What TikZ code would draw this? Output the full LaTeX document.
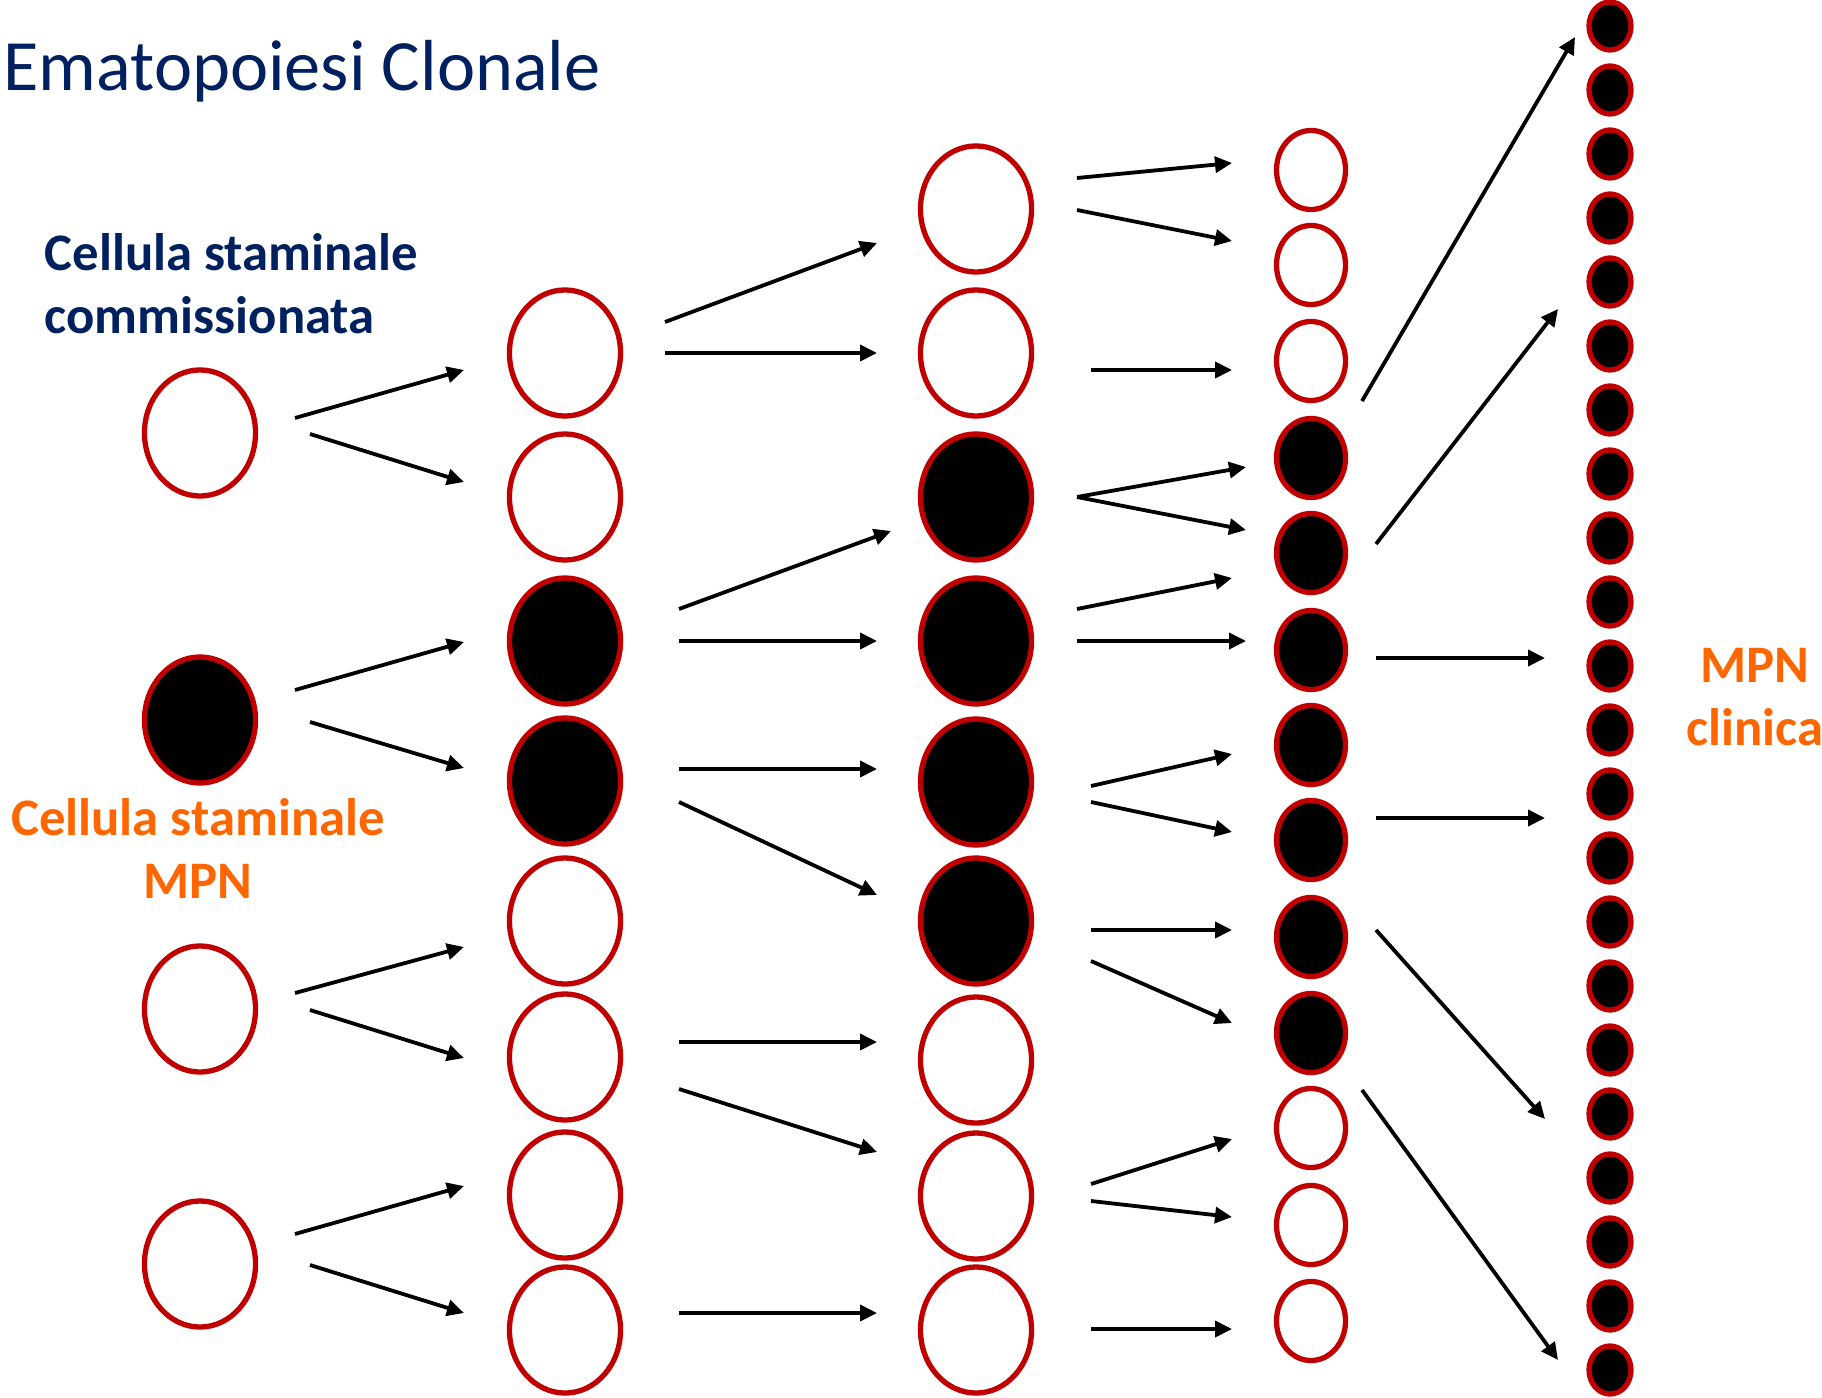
\documentclass[tikz,border=0pt]{standalone}
\usepackage{fontspec}
\setmainfont{Carlito}
\usetikzlibrary{arrows.meta,shapes.geometric}
\definecolor{navy}{HTML}{002060}
\definecolor{cellred}{HTML}{C00000}
\definecolor{mpnorange}{HTML}{FF6600}
% arrow from a point offset from one cell to a point offset from another
\newcommand\link[4]{\draw[arr] ([shift={#2}]#1.center) -- ([shift={#4}]#3.center);}
\begin{document}
\begin{tikzpicture}[x=0.01cm,y=-0.01cm,
  cell/.style={ellipse,draw=cellred,line width=0.053cm,inner sep=0pt,
    minimum width=1.11cm,minimum height=1.26cm,fill=white},
  midcell/.style={cell,minimum width=0.69cm,minimum height=0.79cm},
  smallcell/.style={cell,minimum width=0.42cm,minimum height=0.48cm,fill=black},
  mut/.style={fill=black},
  arr/.style={-{Triangle[length=0.17cm,width=0.16cm]},line width=0.038cm},
  lbl/.style={inner sep=0pt,font=\fontsize{15pt}{17.9pt}\selectfont\bfseries},
]
\useasboundingbox (0,0) rectangle (1822,1397);

% stem cells
\node[cell] (A1) at (200,433) {};
\node[cell,mut] (A2) at (200,720) {};
\node[cell] (A3) at (200,1009) {};
\node[cell] (A4) at (200,1264) {};

% first progeny
\foreach \i/\y in {1/353,2/497,5/921,6/1057,7/1195,8/1330}
  \node[cell] (B\i) at (565,\y) {};
\foreach \i/\y in {3/641,4/781}
  \node[cell,mut] (B\i) at (565,\y) {};

% second progeny
\foreach \i/\y in {1/209,2/353,7/1060,8/1196,9/1330}
  \node[cell] (C\i) at (976,\y) {};
\foreach \i/\y in {3/497,4/641,5/782,6/921}
  \node[cell,mut] (C\i) at (976,\y) {};

% precursors
\foreach \i/\y in {1/170,2/265,3/361,11/1128,12/1225,13/1321}
  \node[midcell] (D\i) at (1311,\y) {};
\foreach \i/\y in {4/458,5/553,6/650,7/745,8/840,9/937,10/1033}
  \node[midcell,mut] (D\i) at (1311,\y) {};

% mature clone
\foreach \i in {1,...,22}
  \node[smallcell] (E\i) at (1610,{26+64*(\i-1)}) {};

% title and labels (base anchor sits on the last line)
\node[anchor=base west,inner sep=0pt,text=navy,font=\fontsize{20.55pt}{24pt}\selectfont]
  (title) at (3,91) {Ematopoiesi Clonale};
\node[lbl,text=navy,anchor=base west,align=left] (committed) at (44,333)
  {Cellula staminale\\commissionata};
\node[lbl,text=mpnorange,anchor=base,align=center] (mpnstem) at (198,898)
  {Cellula staminale\\MPN};
\node[lbl,text=mpnorange,anchor=base,align=center] (clinical) at (1755,745)
  {MPN\\clinica};

% stem cells -> first progeny
\link{A1}{(95,-15)}{B1}{(-101,17)}
\link{A1}{(110,1)}{B2}{(-101,-15)}
\link{A2}{(95,-30)}{B3}{(-101,1)}
\link{A2}{(110,2)}{B4}{(-101,-13)}
\link{A3}{(95,-16)}{B5}{(-101,26)}
\link{A3}{(110,1)}{B6}{(-101,1)}
\link{A4}{(95,-30)}{B7}{(-101,-9)}
\link{A4}{(110,1)}{B8}{(-101,-17)}

% first -> second progeny
\link{B1}{(100,-31)}{C1}{(-99,34)}
\link{B1}{(100,0)}{C2}{(-99,0)}
\link{B3}{(114,-32)}{C3}{(-85,34)}
\link{B3}{(114,0)}{C4}{(-99,0)}
\link{B4}{(114,-12)}{C5}{(-99,-13)}
\link{B4}{(114,21)}{C6}{(-99,-26)}
\link{B6}{(114,-15)}{C7}{(-99,-18)}
\link{B6}{(114,32)}{C8}{(-99,-44)}
\link{B8}{(114,-17)}{C9}{(-99,-17)}

% second progeny -> precursors
\link{C1}{(101,-31)}{D1}{(-79,-7)}
\link{C1}{(101,1)}{D2}{(-79,-24)}
\link{C2}{(115,17)}{D3}{(-79,9)}
\link{C3}{(101,0)}{D4}{(-65,9)}
\link{C3}{(101,0)}{D5}{(-65,-23)}
\link{C4}{(101,-32)}{D5}{(-79,25)}
\link{C4}{(101,0)}{D6}{(-65,-9)}
\link{C5}{(115,4)}{D7}{(-79,9)}
\link{C5}{(115,20)}{D8}{(-79,-8)}
\link{C6}{(115,9)}{D9}{(-79,-7)}
\link{C6}{(115,40)}{D10}{(-79,-10)}
\link{C8}{(115,-12)}{D11}{(-79,11)}
\link{C8}{(115,5)}{D12}{(-79,-8)}
\link{C9}{(115,-1)}{D13}{(-79,8)}

% precursors -> mature clone
\link{D3}{(51,40)}{E1}{(-35,11)}
\link{D5}{(65,-9)}{E5}{(-52,27)}
\link{D6}{(65,8)}{E11}{(-65,-8)}
\link{D8}{(65,-22)}{E13}{(-65,24)}
\link{D9}{(65,-7)}{E18}{(-65,5)}
\link{D11}{(51,-38)}{E22}{(-52,-10)}
\end{tikzpicture}
\end{document}
